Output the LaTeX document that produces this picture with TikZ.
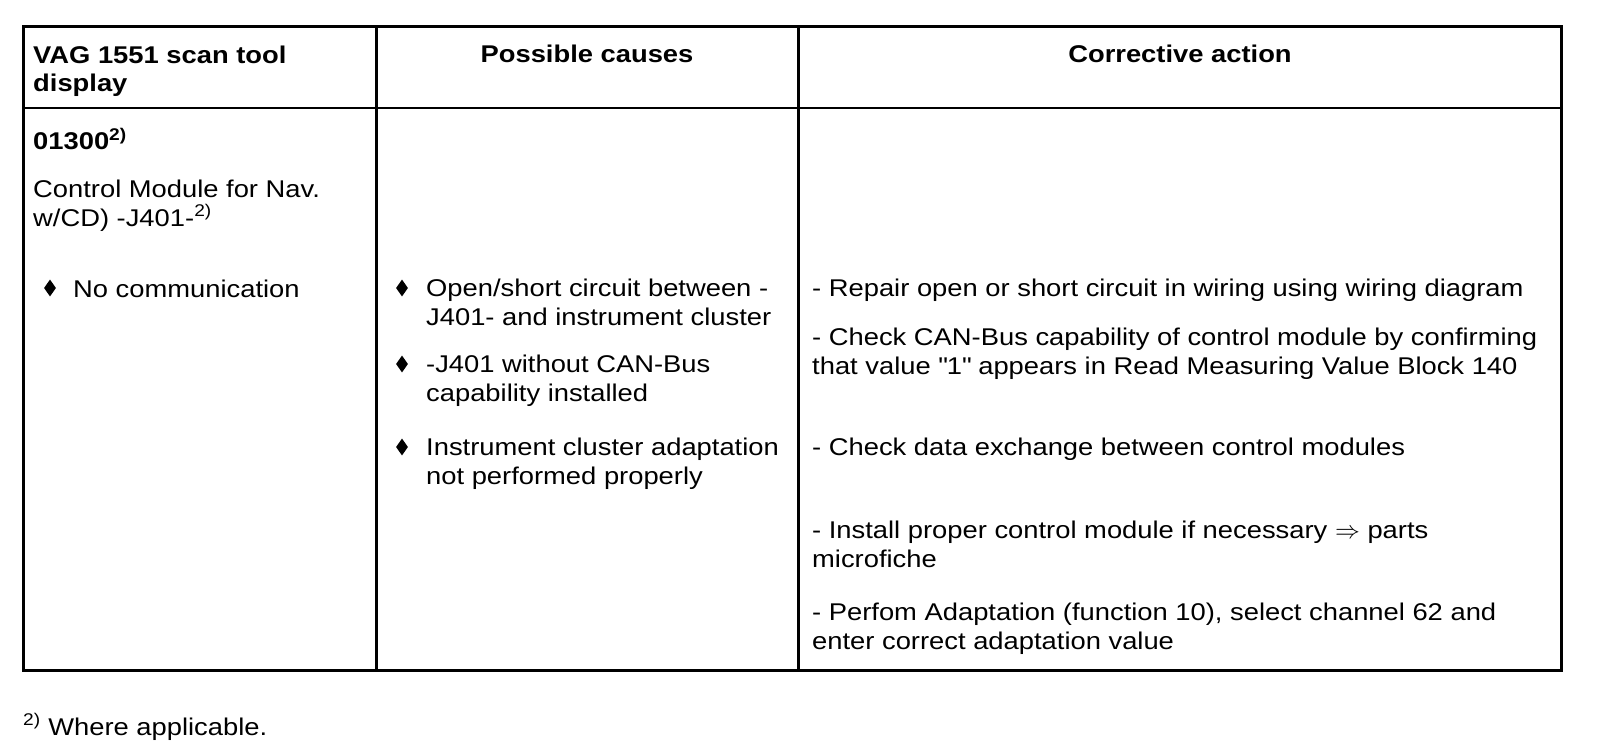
\documentclass[tikz,border=0pt]{standalone}
\usepackage{fontspec}
\setmainfont{Liberation Sans}[FakeStretch=1.13]
\usetikzlibrary{shapes.geometric}
\newcommand\fs{\fontsize{24.2}{28.5}\selectfont}

\begin{document}
\begin{tikzpicture}[x=1pt, y=-1pt, every node/.style = {inner sep=0pt, font=\fs},
  txt/.style = {anchor=base west, align=left},
  hd/.style = {anchor=base, align=left, font=\fs\bfseries},
  dot/.style = {diamond, fill=black, minimum width=12pt, minimum height=17pt}]
\useasboundingbox (0,0) rectangle (1600,754);
% table frame
\coordinate (tl) at (23,27);
\coordinate (br) at (1561,670);
\coordinate (hl) at (23,108);
\coordinate (hr) at (1561,108);
\coordinate (v1t) at (376,27);
\coordinate (v1b) at (376,670);
\coordinate (v2t) at (798,27);
\coordinate (v2b) at (798,670);
\draw[line width=3pt] (tl) rectangle (br);
\draw[line width=2pt] (hl) -- (hr);
\draw[line width=3pt] (v1t) -- (v1b);
\draw[line width=3pt] (v2t) -- (v2b);

% header (multi-line nodes sit on their last line)
\node[hd, anchor=base west] (h1) at (33,92) {VAG 1551 scan tool\\display};
\node[hd] (h2) at (587,63) {Possible causes};
\node[hd] (h3) at (1180,63) {Corrective action};

% scan tool display
\node[txt, font=\fs\bfseries] (code) at (33,150) {01300\textsuperscript{2)}};
\node[txt] (mod) at (33,226) {Control Module for Nav.\\w/CD) -J401-\textsuperscript{2)}};
\node[dot] (d0) at (50,288) {};
\node[txt] (sym) at (73,297) {No communication};

% possible causes
\node[dot] (d1) at (402,288) {};
\node[txt] (c1) at (426,325) {Open/short circuit between -\\J401- and instrument cluster};
\node[dot] (d2) at (402,364) {};
\node[txt] (c2) at (426,401) {-J401 without CAN-Bus\\capability installed};
\node[dot] (d3) at (402,447) {};
\node[txt] (c3) at (426,484) {Instrument cluster adaptation\\not performed properly};

% corrective action
\node[txt] (a1) at (812,296) {- Repair open or short circuit in wiring using wiring diagram};
\node[txt] (a2) at (812,374) {- Check CAN-Bus capability of control module by confirming\\that value \textquotedbl 1\textquotedbl{} appears in Read Measuring Value Block 140};
\node[txt] (a3) at (812,455) {- Check data exchange between control modules};
\node[txt] (a4) at (812,567) {- Install proper control module if necessary $\Rightarrow$ parts\\microfiche};
\node[txt] (a5) at (812,649) {- Perfom Adaptation (function 10), select channel 62 and\\enter correct adaptation value};

% footnote
\node[txt] (fn) at (23,735) {\textsuperscript{2)} Where applicable.};
\end{tikzpicture}
\end{document}
